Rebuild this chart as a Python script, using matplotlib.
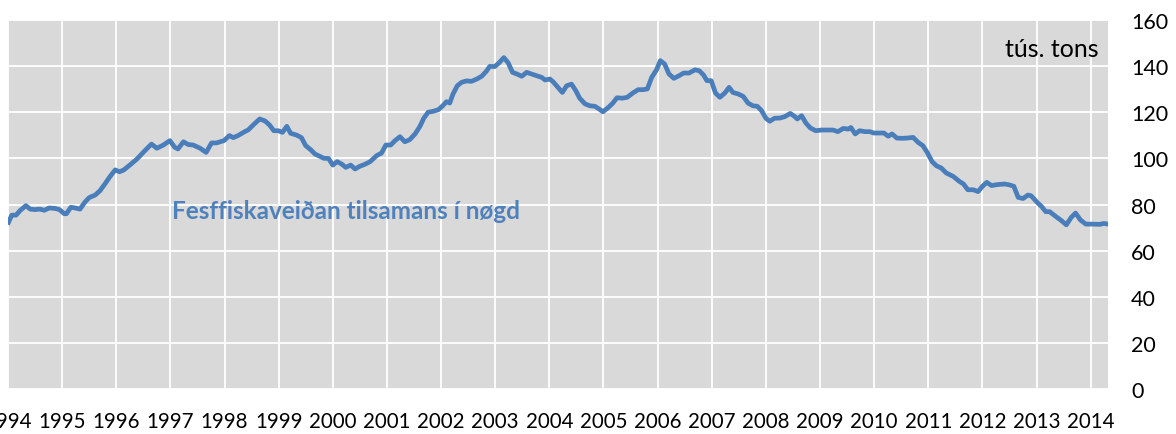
import matplotlib
matplotlib.use("Agg")
import matplotlib.pyplot as plt

plt.rcParams["font.family"] = ["Lato", "DejaVu Sans"]

# monthly-ish reading of the curve, decimal year -> thousand tonnes
years = [
    1994.01, 1994.07, 1994.15, 1994.22, 1994.33, 1994.41, 1994.50, 1994.59, 1994.67, 1994.76,
    1994.87, 1994.95, 1995.04, 1995.08, 1995.16, 1995.24, 1995.33, 1995.42, 1995.50, 1995.61,
    1995.70, 1995.79, 1995.88, 1995.98, 1996.06, 1996.14, 1996.25, 1996.38, 1996.47, 1996.56,
    1996.65, 1996.75, 1996.87, 1996.99, 1997.08, 1997.14, 1997.24, 1997.33, 1997.42, 1997.55,
    1997.66, 1997.76, 1997.85, 1997.92, 1997.99, 1998.09, 1998.16, 1998.25, 1998.35, 1998.44,
    1998.53, 1998.65, 1998.75, 1998.83, 1998.91, 1998.99, 1999.07, 1999.15, 1999.22, 1999.33,
    1999.42, 1999.50, 1999.59, 1999.67, 1999.76, 1999.84, 1999.92, 2000.00, 2000.08, 2000.16,
    2000.24, 2000.33, 2000.41, 2000.50, 2000.59, 2000.69, 2000.81, 2000.90, 2000.98, 2001.07,
    2001.15, 2001.24, 2001.33, 2001.42, 2001.52, 2001.61, 2001.68, 2001.76, 2001.85, 2001.95,
    2002.03, 2002.10, 2002.16, 2002.22, 2002.30, 2002.38, 2002.47, 2002.56, 2002.66, 2002.75,
    2002.83, 2002.90, 2002.99, 2003.07, 2003.16, 2003.24, 2003.32, 2003.41, 2003.49, 2003.58,
    2003.67, 2003.76, 2003.86, 2003.92, 2004.01, 2004.07, 2004.16, 2004.24, 2004.32, 2004.41,
    2004.49, 2004.56, 2004.66, 2004.75, 2004.84, 2004.92, 2004.99, 2005.09, 2005.17, 2005.25,
    2005.35, 2005.44, 2005.54, 2005.64, 2005.73, 2005.81, 2005.89, 2005.98, 2006.05, 2006.13,
    2006.21, 2006.30, 2006.40, 2006.48, 2006.58, 2006.69, 2006.77, 2006.85, 2006.91, 2006.99,
    2007.07, 2007.15, 2007.24, 2007.32, 2007.39, 2007.49, 2007.58, 2007.67, 2007.76, 2007.84,
    2007.92, 2008.00, 2008.07, 2008.16, 2008.26, 2008.35, 2008.45, 2008.53, 2008.58, 2008.66,
    2008.74, 2008.82, 2008.92, 2009.03, 2009.15, 2009.24, 2009.33, 2009.43, 2009.52, 2009.57,
    2009.65, 2009.73, 2009.83, 2009.92, 2009.99, 2010.09, 2010.18, 2010.26, 2010.33, 2010.42,
    2010.52, 2010.60, 2010.72, 2010.81, 2010.90, 2010.98, 2011.07, 2011.15, 2011.24, 2011.33,
    2011.46, 2011.57, 2011.65, 2011.73, 2011.83, 2011.92, 2012.00, 2012.08, 2012.17, 2012.26,
    2012.41, 2012.50, 2012.58, 2012.66, 2012.75, 2012.84, 2012.90, 2013.00, 2013.09, 2013.17,
    2013.24, 2013.35, 2013.46, 2013.55, 2013.64, 2013.72, 2013.81, 2013.91, 2014.04, 2014.17,
    2014.24, 2014.32,
]
catch = [
    72.3, 75.4, 75.4, 77.3, 79.5, 78.0, 77.8, 78.0, 77.5, 78.5,
    78.3, 77.8, 76.0, 76.0, 78.8, 78.5, 78.0, 81.0, 83.0, 84.1,
    86.0, 88.9, 92.0, 95.0, 94.2, 95.0, 97.1, 99.7, 101.9, 104.1,
    106.2, 104.4, 105.8, 107.7, 104.8, 104.1, 107.2, 106.0, 105.8, 104.4,
    102.6, 106.7, 106.7, 107.2, 107.7, 109.9, 109.0, 109.9, 111.3, 112.4,
    114.5, 117.1, 116.2, 114.5, 112.0, 112.0, 111.3, 113.9, 110.9, 110.1,
    109.0, 105.5, 103.8, 101.9, 100.9, 100.0, 100.0, 97.1, 98.6, 97.6,
    96.1, 97.1, 95.4, 96.6, 97.4, 98.6, 101.2, 102.3, 105.8, 105.8,
    107.7, 109.4, 107.2, 108.1, 110.6, 113.9, 117.4, 120.0, 120.4, 121.1,
    122.8, 124.6, 124.0, 127.9, 131.5, 133.0, 133.6, 133.4, 134.4, 135.6,
    137.6, 139.9, 139.8, 141.4, 143.7, 141.4, 137.3, 136.5, 135.6, 137.3,
    136.6, 135.9, 135.1, 134.0, 134.4, 133.2, 130.8, 128.6, 131.5, 132.2,
    129.3, 126.1, 123.6, 122.8, 122.6, 121.4, 120.2, 122.1, 123.9, 126.3,
    126.1, 126.5, 128.3, 129.8, 129.8, 130.1, 135.1, 138.4, 142.4, 140.9,
    136.6, 134.7, 135.9, 137.0, 137.0, 138.4, 138.0, 136.1, 133.7, 133.7,
    128.3, 126.5, 128.3, 130.8, 128.6, 127.9, 126.9, 124.0, 122.8, 122.6,
    120.7, 117.4, 116.1, 117.4, 117.5, 118.1, 119.5, 118.2, 117.1, 118.5,
    115.3, 113.2, 112.0, 112.3, 112.3, 112.3, 111.6, 113.0, 112.7, 113.4,
    110.6, 112.0, 111.6, 111.6, 111.0, 111.0, 111.0, 109.6, 110.6, 108.8,
    108.7, 108.8, 109.1, 107.0, 105.5, 102.6, 98.6, 96.8, 95.8, 93.7,
    92.2, 90.1, 88.9, 86.4, 86.4, 85.6, 87.9, 89.6, 88.2, 88.6,
    88.9, 88.5, 87.9, 83.1, 82.6, 84.1, 83.8, 81.2, 79.2, 76.9,
    76.9, 74.9, 73.0, 71.2, 74.4, 76.3, 73.3, 71.5, 71.5, 71.4,
    71.8, 71.5,
]
year_ticks = list(range(1994, 2015))
value_ticks = [0, 20, 40, 60, 80, 100, 120, 140, 160]

LINE = "#4a7ebb"

fig = plt.figure(figsize=(11.76, 4.35), dpi=100)
ax = fig.add_axes([0.0068, 0.1034, 0.9354, 0.8483])
ax.set_facecolor("#d9d9d9")

ax.plot(years, catch, color=LINE, lw=3.4, solid_joinstyle="round", zorder=3)

ax.set_xlim(1994.0, 2014.32)
ax.set_ylim(0, 160)
ax.set_xticks(year_ticks)
ax.set_xticklabels([str(y) for y in year_ticks])
ax.set_yticks(value_ticks)
ax.yaxis.tick_right()
ax.grid(True, color="white", lw=1.3)
ax.set_axisbelow(True)
for s in ax.spines.values():
    s.set_visible(False)
ax.tick_params(axis="x", length=0, pad=16, labelsize=14.8)
ax.tick_params(axis="y", length=0, pad=16.5, labelsize=15.5)

ax.text(0.991, 0.902, "tús. tons", transform=ax.transAxes, ha="right",
        va="baseline", fontsize=18, color="black")
ax.text(1997.03, 77.2, "Fesffiskaveiðan tilsamans í nøgd", ha="left", va="center",
        fontsize=17.5, fontweight="bold", color="#4f81bd")

fig.savefig("out.png", dpi=100)
